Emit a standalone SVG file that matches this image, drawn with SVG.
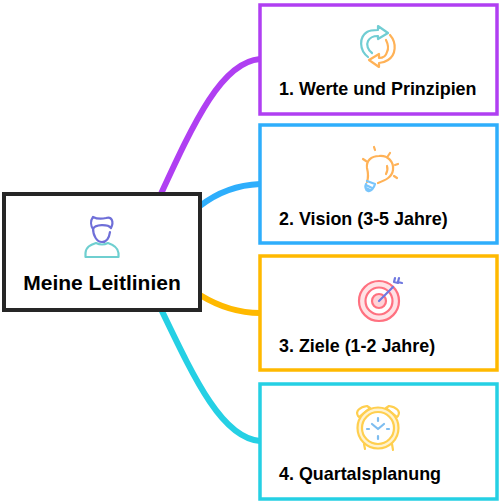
<svg xmlns="http://www.w3.org/2000/svg" width="502" height="504" viewBox="0 0 502 504">
<style>
text{font-family:"Liberation Sans",Arial,sans-serif;font-weight:700;fill:#000}
.t{font-size:17.9px}
.box{fill:#fff;stroke-width:3.5}
.c{fill:none;stroke-width:6}
.i{fill:none;stroke-width:2.2;stroke-linecap:round;stroke-linejoin:round}
</style>
<rect width="502" height="504" fill="#fff"/>
<g id="connectors">
<path class="c" stroke="#b03ff2" d="M160 196C195 120 222 62 260 59"/>
<path class="c" stroke="#2eaefc" d="M200 206C218 192 236 185 260 184"/>
<path class="c" stroke="#ffb900" d="M200 295C218 306 236 313 260 313"/>
<path class="c" stroke="#25d0e4" d="M160 307C195 380 222 438 260 441"/>
</g>
<g id="node-root">
<rect x="4" y="194" width="196" height="116" fill="#fff" stroke="#262626" stroke-width="4"/>
<path class="i" stroke="#6f6fd8" fill="#dcdcf5" d="M93 217C90 221 91 226 93 229C95 224 108 224 111 228C114 222 112 216 106 218C102 219 97 219 93 217Z"/>
<path class="i" stroke="#6f6fd8" d="M93 228C93 236 97 242 102 242C106 242 109 239 110 232"/>
<path class="i" stroke="#6fcfd0" fill="#d9f3f3" d="M85.500 257V253C86 247 90 245 96 243C100 245 104 245 108 243C114 245 118 248 118.500 253V257Z"/>
<text x="102" y="290" text-anchor="middle" font-size="21">Meine Leitlinien</text>
</g>
<g id="node-1">
<rect class="box" x="260" y="5" width="237" height="109" stroke="#b03ff2"/>
<path class="i" stroke="#71cdd3" d="M368 57C359 50 359 37 367 32C370 30 374 30 378 30V26L388 33L378 39V36C373 36 370 37 368 41C366 45 368 50 372 53"/>
<path class="i" stroke="#ffb257" d="M390 35C397 43 396 55 388 60C385 62 382 63 379 63V67L369 60L379 54V58C383 58 386 56 387 52C389 48 388 44 386 40"/>
<text class="t" x="279" y="95">1. Werte und Prinzipien</text>
</g>
<g id="node-2">
<rect class="box" x="260" y="125" width="237" height="118" stroke="#2eaefc"/>
<path class="i" stroke="#ffb257" d="M367 182C369 176 368 172 367 168C366 161 371 156 379 156C388 155 394 162 393 170C392 177 386 180 378 183M387 166C388 169 387 172 386 174M375 150L374 147M390 153L388 156M398 164L395 165M397 178L394 176M363 159L366 161"/>
<path class="i" stroke="#79c5fb" stroke-width="2.800" d="M367 181L375 184C374 188 371 192 368 191C365 190 365 186 366 184M366 185L372 188M366 188L370 190"/>
<text class="t" x="279" y="225">2. Vision (3-5 Jahre)</text>
</g>
<g id="node-3">
<rect class="box" x="260" y="256" width="237" height="114" stroke="#ffb900"/>
<circle cx="379" cy="301" r="20" fill="#ffe2e5" stroke="#ff7180" stroke-width="2.200"/>
<circle cx="379" cy="301" r="13.500" fill="#fff" stroke="#ff7180" stroke-width="2.200"/>
<circle cx="379" cy="301" r="7" fill="#ffd3d8" stroke="#ff7180" stroke-width="2.200"/>
<path class="i" stroke="#6f78e0" d="M379 301L393 287M395 278L394 282L398 283M399 278L398 282L402 283"/>
<text class="t" x="279" y="352">3. Ziele (1-2 Jahre)</text>
</g>
<g id="node-4">
<rect class="box" x="260" y="384" width="237" height="115" stroke="#25d0e4"/>
<circle cx="378" cy="428" r="20.500" fill="#fff3d0" stroke="#ffcf4f" stroke-width="2.200"/>
<circle cx="378" cy="428" r="16" fill="#fff" stroke="#ffcf4f" stroke-width="2.200"/>
<path class="i" stroke="#ffcf4f" d="M358 416C355 411 360 407 367 406L370 408L359 417ZM398 416C401 411 396 407 389 406L386 408L397 417ZM364 444L365 449M392 444L393 450"/>
<path class="i" stroke="#7dbdf0" d="M372 424L378 429L384 424M378 418V421M378 436V439M367 429H369M387 429H389"/>
<text class="t" x="279" y="480">4. Quartalsplanung</text>
</g>
</svg>
